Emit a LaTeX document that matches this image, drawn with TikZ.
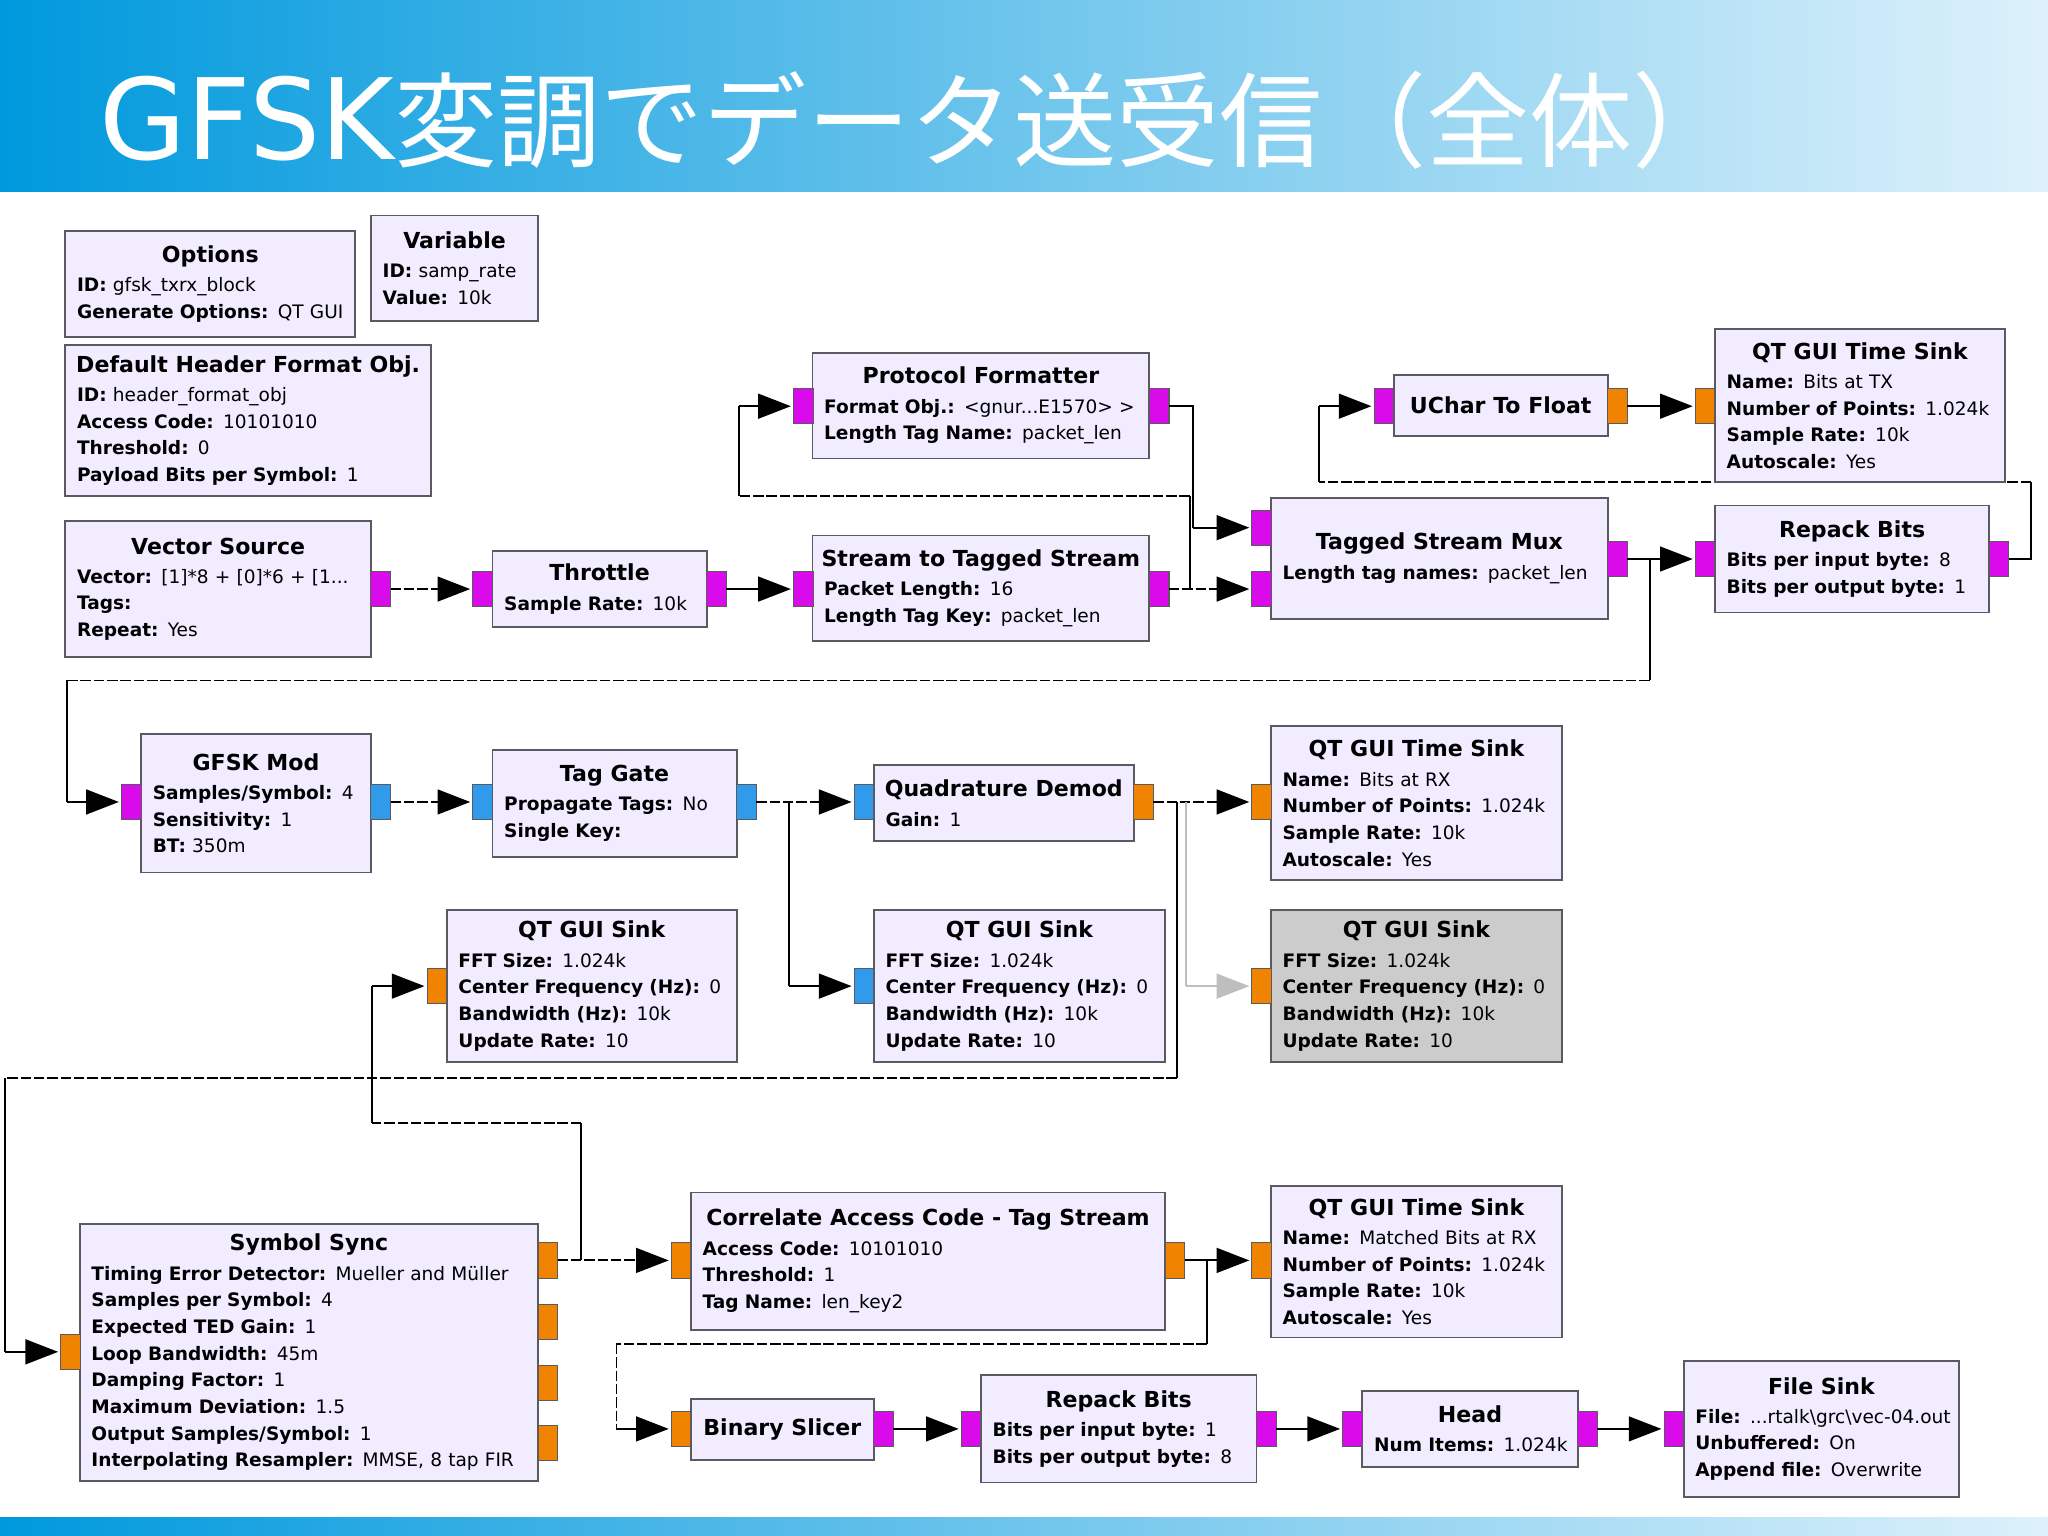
\documentclass[tikz,border=0pt]{standalone}
\usepackage{fontspec}
\setmainfont{DejaVu Sans}
\newfontfamily\cjk{Noto Sans CJK JP}
\usetikzlibrary{arrows.meta}
\definecolor{barleft}{HTML}{0099DD}
\definecolor{barright}{HTML}{DDF1FB}
\definecolor{blockfill}{HTML}{F1ECFF}
\definecolor{blockedge}{HTML}{5A5A60}
\definecolor{offfill}{HTML}{CCCCCC}
\definecolor{portbyte}{HTML}{D90BEA}
\definecolor{portfloat}{HTML}{F08300}
\definecolor{portcplx}{HTML}{2F9BEA}
\definecolor{offwire}{HTML}{BEBEBE}
\newcommand{\blkfont}{\fontsize{7.1pt}{10.2pt}\selectfont\spaceskip=1.9pt\relax}
\newcommand{\blktitle}[1]{\makebox[\linewidth]{\fontsize{8.45pt}{10pt}\selectfont\spaceskip=0pt\relax\bfseries #1}\\[1pt]}
\tikzset{
    block/.style={draw=blockedge, fill=blockfill, line width=.7pt, anchor=north west, outer sep=0pt,
        inner xsep=4.5pt, inner ysep=0pt, align=left, font=\blkfont},
    port/.style={draw=blockedge, line width=.4pt, minimum width=7.5pt, minimum height=13.5pt, inner sep=0pt, outer sep=0pt},
    pbyte/.style={port, fill=portbyte},
    pfloat/.style={port, fill=portfloat},
    pcplx/.style={port, fill=portcplx},
    wire/.style={line width=.75pt},
    wiredash/.style={line width=.75pt, dash pattern=on 4pt off 1.1pt},
    link/.style={line width=.75pt, -{Triangle[length=12.5pt, width=9.5pt]}, shorten >=1pt}
}

\begin{document}
\begin{tikzpicture}[x=.5pt, y=-.5pt]
    \useasboundingbox (0,0) rectangle (1568,1176);
    \shade[left color=barleft, right color=barright] (0,0) rectangle (1568,147);
    \shade[left color=barleft, right color=barright] (0,1162) rectangle (1568,1176);
    \node[anchor=base west, inner sep=0pt, text=white] (title) at (76,122) {\fontsize{43pt}{43pt}\selectfont GFSK{\cjk\fontsize{39.5pt}{39.5pt}\selectfont 変調でデータ送受信（全体）}};

    \node[block, text width=102pt, minimum height=40.5pt] (options) at (50,177) {\blktitle{Options}\textbf{ID:} gfsk\_txrx\_block\\\mbox{\textbf{Generate Options:} QT GUI}};
    \node[block, text width=55pt, minimum height=40.5pt] (variable) at (284,165) {\blktitle{Variable}\textbf{ID:} samp\_rate\\\textbf{Value:} 10k};
    \node[block, text width=131pt, minimum height=58pt] (header) at (50,264) {\blktitle{Default Header Format Obj.}\textbf{ID:} header\_format\_obj\\\textbf{Access Code:} 10101010\\\textbf{Threshold:} 0\\\textbf{Payload Bits per Symbol:} 1};

    \node[block, text width=108pt, minimum height=52pt] (vecsrc) at (50,399) {\blktitle{Vector Source}\textbf{Vector:} [1]*8 + [0]*6 + [1...\\\textbf{Tags:}\\\textbf{Repeat:} Yes};
    \node[pbyte] (vecsrc_out) at (291.5,451) {};

    \node[block, text width=73pt, minimum height=29pt] (throttle) at (377,422) {\blktitle{Throttle}\textbf{Sample Rate:} 10k};
    \node[pbyte] (throttle_in) at (369.5,451) {};
    \node[pbyte] (throttle_out) at (548.5,451) {};
    \draw (vecsrc_out) edge[link, wiredash] (throttle_in);

    \node[block, text width=120pt, minimum height=40.5pt] (tagger) at (622,410) {\blktitle{Stream to Tagged Stream}\textbf{Packet Length:} 16\\\textbf{Length Tag Key:} packet\_len};
    \node[pbyte] (tagger_in) at (615,451) {};
    \node[pbyte] (tagger_out) at (887.5,451) {};
    \draw (throttle_out) edge[link] (tagger_in);

    \node[block, text width=120pt, minimum height=40.5pt] (protofmt) at (622,270) {\blktitle{Protocol Formatter}\mbox{\textbf{Format Obj.:} <gnur...E1570> >}\\\textbf{Length Tag Name:} packet\_len};
    \node[pbyte] (protofmt_in) at (615,311) {};
    \node[pbyte] (protofmt_out) at (887.5,311) {};
    \coordinate (tagger_a) at (911,451);
    \coordinate (tagger_b) at (911,380);
    \coordinate (tagger_c) at (566,380);
    \coordinate (tagger_d) at (566,311);
    \draw[wire] (tagger_a) -- (tagger_b);
    \draw[wiredash] (tagger_b) -- (tagger_c);
    \draw[wire] (tagger_c) -- (tagger_d);
    \draw (tagger_d) edge[link] (protofmt_in);

    \node[block, text width=120pt, minimum height=46.5pt] (mux) at (973,381) {\blktitle{Tagged Stream Mux}\textbf{Length tag names:} packet\_len};
    \node[pbyte] (mux_in1) at (966,404) {};
    \node[pbyte] (mux_in2) at (966,451) {};
    \node[pbyte] (mux_out) at (1238.5,428) {};
    \coordinate (protofmt_a) at (913.5,311);
    \coordinate (protofmt_b) at (913.5,404);
    \draw[wire] (protofmt_out) -- (protofmt_a) -- (protofmt_b);
    \draw (protofmt_b) edge[link] (mux_in1);
    \draw (tagger_out) edge[link, wiredash] (mux_in2);

    \node[block, text width=96pt, minimum height=41pt] (repack1) at (1313,387) {\blktitle{Repack Bits}\textbf{Bits per input byte:} 8\\\textbf{Bits per output byte:} 1};
    \node[pbyte] (repack1_in) at (1305.5,428) {};
    \node[pbyte] (repack1_out) at (1530.5,428) {};
    \draw (mux_out) edge[link] (repack1_in);

    \node[block, text width=73pt, minimum height=23.5pt] (uchar) at (1067,287) {\blktitle{UChar To Float}};
    \node[pbyte] (uchar_in) at (1059.5,311) {};
    \node[pfloat] (uchar_out) at (1238.5,311) {};
    \coordinate (repack1_a) at (1555,428);
    \coordinate (repack1_b) at (1555,369);
    \coordinate (repack1_c) at (1010,369);
    \coordinate (repack1_d) at (1010,311);
    \draw[wire] (repack1_out) -- (repack1_a) -- (repack1_b);
    \draw[wiredash] (repack1_b) -- (repack1_c);
    \draw[wire] (repack1_c) -- (repack1_d);
    \draw (repack1_d) edge[link] (uchar_in);

    \node[block, text width=102pt, minimum height=58.5pt] (timetx) at (1313,252) {\blktitle{QT GUI Time Sink}\textbf{Name:} Bits at TX\\\textbf{Number of Points:} 1.024k\\\textbf{Sample Rate:} 10k\\\textbf{Autoscale:} Yes};
    \node[pfloat] (timetx_in) at (1305.5,311) {};
    \draw (uchar_out) edge[link] (timetx_in);

    \node[block, text width=79pt, minimum height=53pt] (gfskmod) at (108,562) {\blktitle{GFSK Mod}\textbf{Samples/Symbol:} 4\\\textbf{Sensitivity:} 1\\\textbf{BT:} 350m};
    \node[pbyte] (gfskmod_in) at (100.5,614) {};
    \node[pcplx] (gfskmod_out) at (291.5,614) {};
    \coordinate (mux_a) at (1263,428);
    \coordinate (mux_b) at (1263,521);
    \coordinate (mux_c) at (51,521);
    \coordinate (mux_d) at (51,614);
    \draw[wire] (mux_a) -- (mux_b);
    \draw[wiredash] (mux_b) -- (mux_c);
    \draw[wire] (mux_c) -- (mux_d);
    \draw (mux_d) edge[link] (gfskmod_in);

    \node[block, text width=84.5pt, minimum height=41pt] (taggate) at (377,574) {\blktitle{Tag Gate}\textbf{Propagate Tags:} No\\\textbf{Single Key:}};
    \node[pcplx] (taggate_in) at (369.5,614) {};
    \node[pcplx] (taggate_out) at (571.5,614) {};
    \draw (gfskmod_out) edge[link, wiredash] (taggate_in);

    \node[block, text width=90.5pt, minimum height=29pt] (demod) at (669,586) {\blktitle{Quadrature Demod}\textbf{Gain:} 1};
    \node[pcplx] (demod_in) at (661.5,614) {};
    \node[pfloat] (demod_out) at (875.5,614) {};
    \draw (taggate_out) edge[link, wiredash] (demod_in);

    \node[block, text width=102.5pt, minimum height=59pt] (timerx) at (973,556) {\blktitle{QT GUI Time Sink}\textbf{Name:} Bits at RX\\\textbf{Number of Points:} 1.024k\\\textbf{Sample Rate:} 10k\\\textbf{Autoscale:} Yes};
    \node[pfloat] (timerx_in) at (966,614) {};
    \draw (demod_out) edge[link, wiredash] (timerx_in);

    \node[block, text width=102pt, minimum height=58pt] (sinkleft) at (342,697) {\blktitle{QT GUI Sink}\textbf{FFT Size:} 1.024k\\\textbf{Center Frequency (Hz):} 0\\\textbf{Bandwidth (Hz):} 10k\\\textbf{Update Rate:} 10};
    \node[pfloat] (sinkleft_in) at (334.5,755) {};

    \node[block, text width=102.5pt, minimum height=58pt] (sinkmid) at (669,697) {\blktitle{QT GUI Sink}\textbf{FFT Size:} 1.024k\\\textbf{Center Frequency (Hz):} 0\\\textbf{Bandwidth (Hz):} 10k\\\textbf{Update Rate:} 10};
    \node[pcplx] (sinkmid_in) at (661.5,755) {};
    \coordinate (taggate_a) at (604,614);
    \coordinate (taggate_b) at (604,755);
    \draw[wire] (taggate_a) -- (taggate_b);
    \draw (taggate_b) edge[link] (sinkmid_in);

    \node[block, fill=offfill, text width=102.5pt, minimum height=58pt] (sinkoff) at (973,697) {\blktitle{QT GUI Sink}\textbf{FFT Size:} 1.024k\\\textbf{Center Frequency (Hz):} 0\\\textbf{Bandwidth (Hz):} 10k\\\textbf{Update Rate:} 10};
    \node[pfloat] (sinkoff_in) at (966,755) {};
    \coordinate (demod_e) at (908,614);
    \coordinate (demod_f) at (908,755);
    \draw[wire, draw=offwire] (demod_e) -- (demod_f);
    \draw (demod_f) edge[link, draw=offwire, fill=offwire] (sinkoff_in);

    \node[block, text width=166.5pt, minimum height=98.5pt] (symsync) at (61,937) {\blktitle{Symbol Sync}\textbf{Timing Error Detector:} Mueller and Müller\\\textbf{Samples per Symbol:} 4\\\textbf{Expected TED Gain:} 1\\\textbf{Loop Bandwidth:} 45m\\\textbf{Damping Factor:} 1\\\textbf{Maximum Deviation:} 1.5\\\textbf{Output Samples/Symbol:} 1\\\textbf{Interpolating Resampler:} MMSE, 8 tap FIR};
    \node[pfloat] (symsync_in) at (54,1035) {};
    \node[pfloat] (symsync_out0) at (419.5,965) {};
    \node[pfloat] (symsync_out1) at (419.5,1012) {};
    \node[pfloat] (symsync_out2) at (419.5,1059) {};
    \node[pfloat] (symsync_out3) at (419.5,1105) {};
    \coordinate (demod_a) at (901,614);
    \coordinate (demod_b) at (901,825);
    \coordinate (demod_c) at (4,825);
    \coordinate (demod_d) at (4,1035);
    \draw[wire] (demod_a) -- (demod_b);
    \draw[wiredash] (demod_b) -- (demod_c);
    \draw[wire] (demod_c) -- (demod_d);
    \draw (demod_d) edge[link] (symsync_in);

    \node[block, text width=172.5pt, minimum height=52.5pt] (correlate) at (529,913) {\blktitle{Correlate Access Code - Tag Stream}\textbf{Access Code:} 10101010\\\textbf{Threshold:} 1\\\textbf{Tag Name:} len\_key2};
    \node[pfloat] (correlate_in) at (521.5,965) {};
    \node[pfloat] (correlate_out) at (899.5,965) {};
    \draw (symsync_out0) edge[link, wiredash] (correlate_in);
    \coordinate (symsync_a) at (445,965);
    \coordinate (symsync_b) at (445,860);
    \coordinate (symsync_c) at (285,860);
    \coordinate (symsync_d) at (285,755);
    \draw[wire] (symsync_a) -- (symsync_b);
    \draw[wiredash] (symsync_b) -- (symsync_c);
    \draw[wire] (symsync_c) -- (symsync_d);
    \draw (symsync_d) edge[link] (sinkleft_in);

    \node[block, text width=102.5pt, minimum height=58pt] (timematch) at (973,908) {\blktitle{QT GUI Time Sink}\textbf{Name:} Matched Bits at RX\\\textbf{Number of Points:} 1.024k\\\textbf{Sample Rate:} 10k\\\textbf{Autoscale:} Yes};
    \node[pfloat] (timematch_in) at (966,965) {};
    \draw (correlate_out) edge[link] (timematch_in);

    \node[block, text width=61pt, minimum height=23.5pt] (slicer) at (529,1071) {\blktitle{Binary Slicer}};
    \node[pfloat] (slicer_in) at (521.5,1094) {};
    \node[pbyte] (slicer_out) at (676.5,1094) {};
    \coordinate (correlate_a) at (924,965);
    \coordinate (correlate_b) at (924,1029);
    \coordinate (correlate_c) at (472,1029);
    \coordinate (correlate_d) at (472,1094);
    \draw[wire] (correlate_a) -- (correlate_b);
    \draw[wiredash] (correlate_b) -- (correlate_c);
    \draw[wiredash, line width=.4pt] (correlate_c) -- (correlate_d);
    \draw (correlate_d) edge[link] (slicer_in);

    \node[block, text width=96.5pt, minimum height=41pt] (repack2) at (751,1053) {\blktitle{Repack Bits}\textbf{Bits per input byte:} 1\\\textbf{Bits per output byte:} 8};
    \node[pbyte] (repack2_in) at (743.5,1094) {};
    \node[pbyte] (repack2_out) at (969.5,1094) {};
    \draw (slicer_out) edge[link] (repack2_in);

    \node[block, text width=73.5pt, minimum height=29pt] (head) at (1043,1065) {\blktitle{Head}\mbox{\textbf{Num Items:} 1.024k}};
    \node[pbyte] (head_in) at (1035.5,1094) {};
    \node[pbyte] (head_out) at (1215.5,1094) {};
    \draw (repack2_out) edge[link] (head_in);

    \node[block, text width=96.5pt, minimum height=52pt] (filesink) at (1289,1042) {\blktitle{File Sink}\mbox{\textbf{File:} ...rtalk\textbackslash grc\textbackslash vec-04.out}\\\textbf{Unbuffered:} On\\\textbf{Append file:} Overwrite};
    \node[pbyte] (filesink_in) at (1281.5,1094) {};
    \draw (head_out) edge[link] (filesink_in);
\end{tikzpicture}
\end{document}
